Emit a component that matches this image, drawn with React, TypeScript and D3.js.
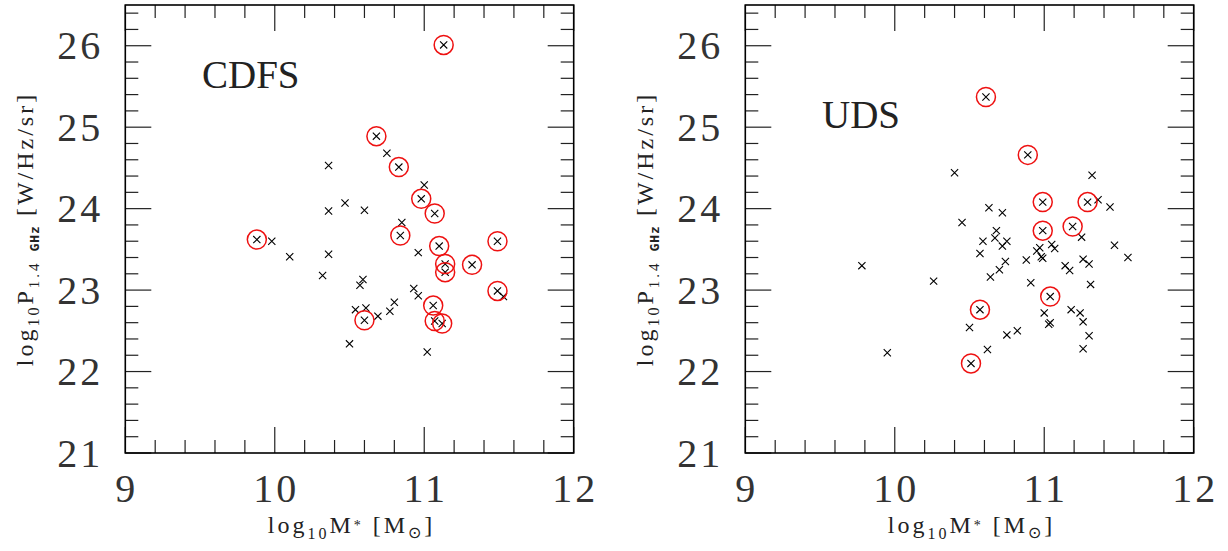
import React from "react";
import * as d3 from "d3";

// ---------- data ----------
const CDFS_MASS = [9.88, 9.98, 10.10, 11.13, 10.68, 10.75, 10.83, 10.36, 11.00, 10.98, 10.47, 10.36, 10.60, 11.07, 10.85, 10.84, 11.49, 11.10, 10.96, 10.36, 11.32, 11.14, 11.14, 10.32, 10.59, 10.57, 11.49, 11.53, 10.93, 10.96, 10.80, 10.77, 10.54, 10.61, 10.60, 10.69, 11.06, 11.07, 11.12, 10.50, 11.02];
const CDFS_POWER = [23.62, 23.60, 23.41, 26.01, 24.89, 24.68, 24.51, 24.53, 24.29, 24.12, 24.07, 23.97, 23.98, 23.94, 23.83, 23.67, 23.60, 23.54, 23.46, 23.44, 23.31, 23.32, 23.22, 23.18, 23.13, 23.06, 22.99, 22.92, 23.02, 22.93, 22.85, 22.74, 22.76, 22.78, 22.63, 22.68, 22.81, 22.62, 22.59, 22.34, 22.24];
const CDFS_RING_MASS = [9.88, 11.13, 10.68, 10.83, 10.98, 11.07, 10.84, 11.49, 11.10, 11.32, 11.14, 11.14, 11.49, 10.60, 11.06, 11.07, 11.12];
const CDFS_RING_POWER = [23.62, 26.01, 24.89, 24.51, 24.12, 23.94, 23.67, 23.60, 23.54, 23.31, 23.32, 23.22, 22.99, 22.63, 22.81, 22.62, 22.59];

const UDS_MASS = [9.78, 9.95, 10.26, 10.61, 10.89, 10.40, 11.32, 10.99, 11.29, 11.36, 11.44, 10.63, 10.72, 10.45, 10.99, 11.19, 11.25, 10.68, 10.67, 10.59, 10.75, 10.72, 10.57, 11.47, 11.05, 11.07, 10.97, 10.95, 10.98, 10.74, 10.88, 11.56, 11.26, 11.30, 11.14, 11.17, 10.70, 10.64, 10.91, 11.31, 11.04, 10.57, 11.00, 11.18, 11.24, 11.26, 11.03, 11.04, 10.50, 10.75, 10.82, 11.30, 10.62, 11.26, 10.51, 10.99];
const UDS_POWER = [23.30, 22.23, 23.11, 25.37, 24.66, 24.44, 24.41, 24.08, 24.08, 24.11, 24.02, 24.01, 23.95, 23.83, 23.73, 23.78, 23.65, 23.73, 23.64, 23.60, 23.60, 23.54, 23.45, 23.55, 23.56, 23.51, 23.52, 23.48, 23.41, 23.35, 23.37, 23.40, 23.38, 23.32, 23.30, 23.24, 23.25, 23.16, 23.09, 23.07, 22.92, 22.76, 22.72, 22.76, 22.72, 22.61, 22.58, 22.60, 22.54, 22.45, 22.50, 22.44, 22.27, 22.28, 22.10, 23.39];
const UDS_RING_MASS = [10.61, 10.89, 10.99, 11.29, 10.99, 11.19, 11.04, 10.57, 10.51];
const UDS_RING_POWER = [25.37, 24.66, 24.08, 24.08, 23.73, 23.78, 22.92, 22.76, 22.10];

const X_TICKS = [9, 10, 11, 12];
const Y_TICKS = [21, 22, 23, 24, 25, 26];
const PANEL_LABELS = ["CDFS", "UDS"];

// ---------- layout ----------
const W = 1228;
const H = 551;
const TOP = 5;
const BOTTOM = 453;
const PANEL_LEFT = [125.3, 745.3];
const PANEL_W = 448.4;
const LABEL_POS = [
  { x: 202, y: 88 },
  { x: 822, y: 128 },
];
const FONT = "'Liberation Serif', 'Times New Roman', serif";

type PanelProps = {
  left: number;
  mass: number[];
  power: number[];
  ringMass: number[];
  ringPower: number[];
  label: string;
  labelPos: { x: number; y: number };
};

function Panel({ left, mass, power, ringMass, ringPower, label, labelPos }: PanelProps) {
  const x = d3.scaleLinear().domain([9, 12]).range([left, left + PANEL_W]);
  const y = d3.scaleLinear().domain([21, 26.5]).range([BOTTOM, TOP]);
  const right = left + PANEL_W;

  const xMinor = d3.range(9, 12.0001, 0.2).map((v) => +v.toFixed(1));
  const yMinor = d3.range(21, 26.5001, 0.2).map((v) => +v.toFixed(1));
  const isMajor = (v: number) => Math.abs(v - Math.round(v)) < 1e-6;
  const MAJ = 26;
  const MIN = 13;
  const tickStroke = "#222";
  const cs = 3.6;

  return (
    <g>
      {/* x ticks bottom & top */}
      {xMinor.map((v, i) => {
        const L = isMajor(v) ? MAJ : MIN;
        const px = x(v);
        return (
          <g key={"xt" + i}>
            <line x1={px} x2={px} y1={BOTTOM} y2={BOTTOM - L} stroke={tickStroke} strokeWidth={1.2} />
            <line x1={px} x2={px} y1={TOP} y2={TOP + L} stroke={tickStroke} strokeWidth={1.2} />
          </g>
        );
      })}
      {yMinor.map((v, i) => {
        const L = isMajor(v) ? MAJ : MIN;
        const py = y(v);
        return (
          <g key={"yt" + i}>
            <line x1={left} x2={left + L} y1={py} y2={py} stroke={tickStroke} strokeWidth={1.2} />
            <line x1={right} x2={right - L} y1={py} y2={py} stroke={tickStroke} strokeWidth={1.2} />
          </g>
        );
      })}
      <rect x={left} y={TOP} width={PANEL_W} height={BOTTOM - TOP} fill="none" stroke="#000" strokeWidth={1.6} />

      {/* tick labels */}
      {X_TICKS.map((v) => (
        <text key={"xl" + v} x={x(v) + 1.5} y={502} textAnchor="middle" fontFamily={FONT} fontSize={40} fill="#333" letterSpacing={3}>
          {v}
        </text>
      ))}
      {Y_TICKS.map((v) => (
        <text key={"yl" + v} x={left - 22} y={y(v) + 13.5} textAnchor="end" fontFamily={FONT} fontSize={40} fill="#333" letterSpacing={3}>
          {v}
        </text>
      ))}

      {/* axis titles */}
      <text x={left + PANEL_W / 2 + 2} y={533} textAnchor="middle" fontFamily={FONT} fontSize={24} fill="#222" letterSpacing={3}>
        log<tspan fontSize={16} dy={6}>10</tspan>
        <tspan dy={-6}>M</tspan>
        <tspan fontSize={14} dy={-3}>*</tspan>
        <tspan dy={3}> [M</tspan>
        <tspan fontSize={16} dy={5}>⊙</tspan>
        <tspan dy={-5}>]</tspan>
      </text>
      <g transform={`translate(${left - 92},${(TOP + BOTTOM) / 2}) rotate(-90)`}>
        <text x={0} y={0} textAnchor="middle" fontFamily={FONT} fontSize={24} fill="#222" letterSpacing={3}>
          log<tspan fontSize={16} dy={6}>10</tspan>
          <tspan dy={-6}>P</tspan>
          <tspan fontSize={15} dy={6}>1.4</tspan>
          <tspan fontSize={13} fontFamily="'DejaVu Sans Mono', monospace" fontWeight="bold" letterSpacing={1}> GHz</tspan>
          <tspan dy={-6}> [W/Hz/sr]</tspan>
        </text>
      </g>

      {/* panel label */}
      <text x={labelPos.x} y={labelPos.y} fontFamily={FONT} fontSize={39} fill="#222">
        {label}
      </text>

      {/* crosses */}
      {mass.map((m, i) => {
        const px = x(m);
        const py = y(power[i]);
        return (
          <path
            key={"c" + i}
            d={`M${px - cs},${py - cs}L${px + cs},${py + cs}M${px - cs},${py + cs}L${px + cs},${py - cs}`}
            stroke="#000"
            strokeWidth={1.1}
            fill="none"
          />
        );
      })}
      {/* rings */}
      {ringMass.map((m, i) => (
        <circle key={"r" + i} cx={x(m)} cy={y(ringPower[i])} r={9.5} fill="none" stroke="#ee1111" strokeWidth={1.5} />
      ))}
    </g>
  );
}

export default function App() {
  return (
    <svg width={W} height={H} style={{ position: "absolute", left: 0, top: 0, background: "#fff" }}>
      <rect x={0} y={0} width={W} height={H} fill="#fff" />
      <Panel
        left={PANEL_LEFT[0]}
        mass={CDFS_MASS}
        power={CDFS_POWER}
        ringMass={CDFS_RING_MASS}
        ringPower={CDFS_RING_POWER}
        label={PANEL_LABELS[0]}
        labelPos={LABEL_POS[0]}
      />
      <Panel
        left={PANEL_LEFT[1]}
        mass={UDS_MASS}
        power={UDS_POWER}
        ringMass={UDS_RING_MASS}
        ringPower={UDS_RING_POWER}
        label={PANEL_LABELS[1]}
        labelPos={LABEL_POS[1]}
      />
    </svg>
  );
}
